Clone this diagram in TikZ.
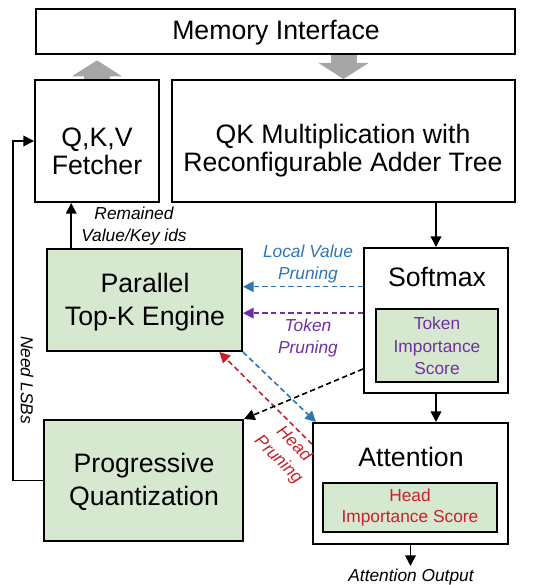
\documentclass[tikz,border=0pt]{standalone}
\usepackage{fontspec}
\setmainfont{Liberation Sans}
\usetikzlibrary{arrows.meta,calc}
\definecolor{boxgreen}{RGB}{214,233,208}
\definecolor{arrowgray}{RGB}{166,166,166}
\definecolor{cblue}{RGB}{46,117,182}
\definecolor{cpurple}{RGB}{112,48,160}
\definecolor{cred}{RGB}{200,32,44}
\begin{document}
\begin{tikzpicture}[x=0.75pt,y=-0.75pt,
  box/.style={draw,line width=1.5pt,inner sep=0pt},
  gbox/.style={box,fill=boxgreen},
  big/.style={font=\fontsize{20}{21}\selectfont,align=center,inner sep=0pt},
  small/.style={font=\fontsize{13}{16.5}\selectfont,align=center,inner sep=0pt},
  lbl/.style={font=\fontsize{13}{16.5}\selectfont\itshape,align=center,inner sep=0pt},
  arr/.style={line width=1.2pt,-{Triangle[length=8pt,width=8pt]}},
  darr/.style={line width=1.2pt,dash pattern=on 4pt off 2.5pt,-{Triangle[length=8pt,width=8pt]}},
  blockarr/.style={arrowgray,line width=19.5pt,-{Triangle[length=12pt,width=37pt]}}]
\useasboundingbox (0,0) rectangle (549,585);

% blocks
\node[box,minimum width=359.25pt,minimum height=33.75pt] (mem) at (275.5,31.5) {};
\node[box,minimum width=93pt,minimum height=91.5pt] (fetch) at (97,141) {};
\node[box,minimum width=257.25pt,minimum height=91.5pt] (qk) at (343.5,141) {};
\node[box,minimum width=108pt,minimum height=108.75pt] (soft) at (436,320.5) {};
\node[gbox,minimum width=91.5pt,minimum height=54.75pt] (tis) at (437,345.5) {};
\node[gbox,minimum width=146.25pt,minimum height=76.5pt] (topk) at (144.5,300) {};
\node[gbox,minimum width=149.25pt,minimum height=90.75pt] (pq) at (143.5,480.5) {};
\node[box,minimum width=146.25pt,minimum height=90.75pt] (att) at (410.5,483.5) {};
\node[gbox,minimum width=130.5pt,minimum height=36.75pt] (his) at (410,507.5) {};

% block texts
\node[big] (memt) at (276,33) {Memory Interface};
\node[big] (fetcht) at (97,151) {Q,K,V\\Fetcher};
\node[big] (qkt) at (343,151) {QK Multiplication with\\Reconfigurable Adder Tree};
\node[big] (softt) at (437,277) {Softmax};
\node[big,font=\fontsize{20}{24.75}\selectfont] (topkt) at (145,302) {Parallel\\Top-K Engine};
\node[big,font=\fontsize{20}{24.75}\selectfont] (pqt) at (144,482) {Progressive\\Quantization};
\node[big] (attt) at (411,457) {Attention};
\node[small,cpurple,font=\fontsize{13}{16.9}\selectfont] (tist) at (437,346) {Token\\Importance\\Score};
\node[small,cred,font=\fontsize{13}{15.75}\selectfont] (hist) at (410,508) {Head\\Importance Score};

% memory traffic
\draw[blockarr,shorten >=4pt] (fetch.north) -- (fetch.north |- mem.south);
\draw[blockarr] (mem.south -| qk.north) -- (qk.north);

% data path
\coordinate (rk) at ($(topk.north west)!0.128!(topk.north east)$);
\draw[arr] (rk) -- (rk |- fetch.south);
\draw[arr] (qk.south -| soft.north) -- (soft.north);
\draw[arr] (soft.south) -- (soft.south |- att.north);
\coordinate (aouttip) at (410.5,566);
\draw[arr] (att.south) -- (aouttip);
\draw[arr] (pq.west) -- ++(-30,0) |- (fetch.west);

% pruning feedback
\coordinate (lv) at ($(soft.north west)!0.27!(soft.south west)$);
\draw[darr,cblue] (lv) -- (lv -| topk.east);
\coordinate (tp) at ($(soft.north west)!0.45!(soft.south west)$);
\draw[darr,cpurple] (tp) -- (tp -| topk.east);
\draw[darr,cblue] (topk.south east) -- ($(att.north west)!0.02!(att.north east)$);
\draw[darr,cred] ($(att.north west)!0.18!(att.south west)$) -- ($(topk.south west)!0.88!(topk.south east)$);
\draw[darr] ($(soft.north west)!0.83!(soft.south west)$) -- (pq.north east);

% labels
\node[lbl] (remk) at (134,226) {Remained\\Value/Key ids};
\node[lbl,cblue] (lvp) at (308,264) {Local Value\\Pruning};
\node[lbl,cpurple] (tkp) at (308,338.5) {Token\\Pruning};
\node[lbl,cred,rotate=-45] (hdp) at (286,452) {Head\\Pruning};
\node[lbl,rotate=-90] (lsb) at (27,380) {Need LSBs};
\node[lbl] (aout) at (411,577) {Attention Output};
\end{tikzpicture}
\end{document}
